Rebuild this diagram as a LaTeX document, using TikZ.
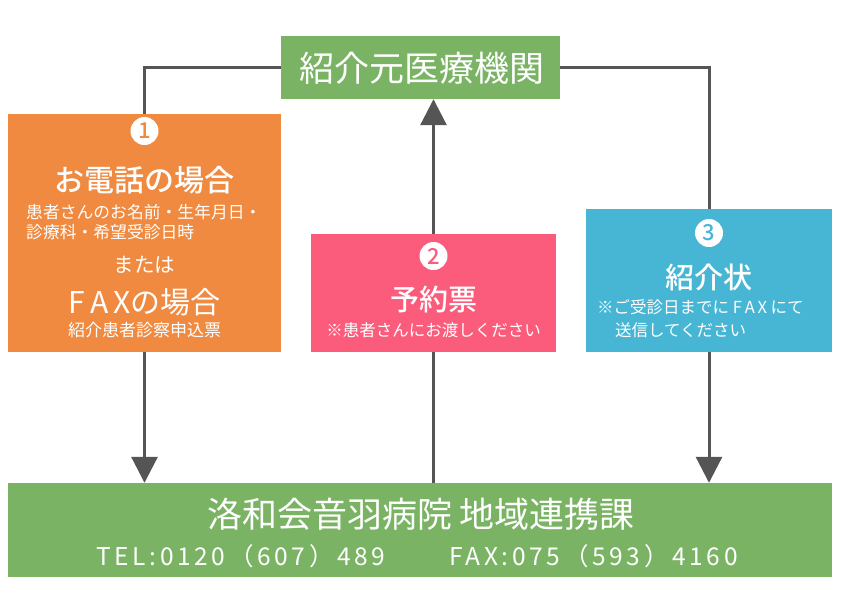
\documentclass[tikz,border=0pt]{standalone}
\usepackage{fontspec}
\newfontfamily\jp{Noto Sans CJK JP}
\newfontfamily\jpb{Noto Sans CJK JP Medium}
\newfontfamily\jpw[LetterSpace=15]{Noto Sans CJK JP}
\usetikzlibrary{arrows.meta}
\definecolor{gr}{HTML}{7AB364}
\definecolor{og}{HTML}{EF8A40}
\definecolor{pk}{HTML}{FC5C7C}
\definecolor{bl}{HTML}{46B6D4}
\definecolor{ln}{HTML}{555555}
\tikzset{
  boxs/.style={draw=none, inner sep=0pt},
  txt/.style={text=white, inner sep=0pt, font=\jp},
  conn/.style={draw=ln, line width=3pt},
  arr/.style={conn, -{Triangle[width=26pt,length=26pt]}},
  num/.style={circle, fill=white, minimum size=28pt, inner sep=0pt, font=\jpb\fontsize{22}{22}\selectfont},
}
\begin{document}
\begin{tikzpicture}[x=1pt,y=-1pt]
\useasboundingbox (0,0) rectangle (842,595);
% boxes
\node[boxs, fill=gr, minimum width=279pt, minimum height=63pt] (top) at (420.5,67.5) {};
\node[boxs, fill=og, minimum width=273pt, minimum height=238pt] (orange) at (144.5,233) {};
\node[boxs, fill=pk, minimum width=245pt, minimum height=118pt] (pink) at (433.5,293) {};
\node[boxs, fill=bl, minimum width=246pt, minimum height=143pt] (blue) at (709,280.5) {};
\node[boxs, fill=gr, minimum width=824pt, minimum height=94pt] (bottom) at (420,530) {};
% connectors
\draw[conn] (top.west) -| (orange.north);
\draw[arr] (orange.south) -- (orange.south |- bottom.north);
\draw[conn] (top.east) -| (blue.north);
\draw[arr] (blue.south) -- (blue.south |- bottom.north);
\draw[conn] (pink.south |- bottom.north) -- (pink.south);
\draw[arr] (pink.north) -- (pink.north |- top.south);
% top text
\node[txt, font=\jp\fontsize{35}{35}\selectfont] (ttop) at (421.5,68) {紹介元医療機関};
% orange texts
\node[num, text=og] (n1) at (144.5,131) {1};
\node[txt, font=\jpb\fontsize{30}{30}\selectfont] (o1) at (144.5,180) {お電話の場合};
\node[txt, font=\jp\fontsize{16.8}{16.8}\selectfont, anchor=west] (o2) at (26,212) {患者さんのお名前・生年月日・};
\node[txt, font=\jp\fontsize{16.8}{16.8}\selectfont, anchor=west] (o3) at (26,232) {診療科・希望受診日時};
\node[txt, font=\jp\fontsize{20.5}{20.5}\selectfont] (o4) at (144.5,265) {または};
\node[txt, font=\jp\fontsize{30}{30}\selectfont] (o5) at (144.5,302) {F\,A\,Xの場合};
\node[txt, font=\jp\fontsize{17}{17}\selectfont] (o6) at (144.5,330) {紹介患者診察申込票};
% pink texts
\node[num, text=pk] (n2) at (433.5,256) {2};
\node[txt, font=\jpb\fontsize{29}{29}\selectfont] (p1) at (433.5,299) {予約票};
\node[txt, font=\jp\fontsize{16.5}{16.5}\selectfont] (p2) at (433.5,330) {※患者さんにお渡しください};
% blue texts
\node[num, text=bl] (n3) at (709,233) {3};
\node[txt, font=\jpb\fontsize{29}{29}\selectfont] (b1) at (709,277) {紹介状};
\node[txt, font=\jp\fontsize{16.5}{16.5}\selectfont, anchor=west] (b2) at (597,307) {※ご受診日までに F\,A\,X にて};
\node[txt, font=\jp\fontsize{16.5}{16.5}\selectfont, anchor=west] (b3) at (615,330) {送信してください};
% bottom texts
\node[txt, font=\jp\fontsize{35}{35}\selectfont] (bt1) at (421,514) {洛和会音羽病院 地域連携課};
\node[txt, font=\jpw\fontsize{24.5}{24.5}\selectfont, anchor=west] (bt2) at (96,556) {TEL:0120（607）489};
\node[txt, font=\jpw\fontsize{24.5}{24.5}\selectfont, anchor=west] (bt3) at (449,556) {FAX:075（593）4160};
\end{tikzpicture}
\end{document}
